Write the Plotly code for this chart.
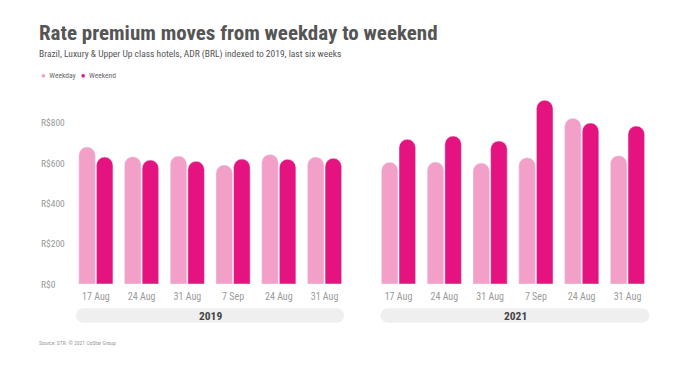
import plotly.graph_objects as go

weeks = ["17 Aug", "24 Aug", "31 Aug", "7 Sep", "24 Aug", "31 Aug"]
weekday_2019 = [680, 632, 635, 590, 643, 630]
weekend_2019 = [630, 615, 609, 620, 619, 624]
weekday_2021 = [604, 605, 600, 627, 822, 637]
weekend_2021 = [718, 734, 710, 912, 799, 784]
years = ["2019", "2021"]
y_ticks = [0, 200, 400, 600, 800]
y_tick_text = ["R$0", "R$200", "R$400", "R$600", "R$800"]

C_WD = "#F3A0C8"
C_WE = "#E5137F"
FONT = "Roboto Condensed, Open Sans Condensed, sans-serif"
W, H = 700, 366
mt, mb = 90, 82
PH = H - mt - mb


def py(ypx):
    """convert a pixel row (from top of figure) to paper coordinate"""
    return (H - mb - ypx) / PH


pos = list(range(len(weeks)))

fig = go.Figure()
fig.add_bar(x=pos, y=weekday_2019, marker_color=C_WD, xaxis="x", yaxis="y", name="Weekday")
fig.add_bar(x=pos, y=weekend_2019, marker_color=C_WE, xaxis="x", yaxis="y", name="Weekend")
fig.add_bar(x=pos, y=weekday_2021, marker_color=C_WD, xaxis="x2", yaxis="y", name="Weekday")
fig.add_bar(x=pos, y=weekend_2021, marker_color=C_WE, xaxis="x2", yaxis="y", name="Weekend")

dom1 = [73 / W, 347.4 / W]
dom2 = [375.6 / W, 650.4 / W]
axis_common = dict(
    tickmode="array", tickvals=pos, ticktext=weeks, showgrid=False, zeroline=False,
    showline=False, ticks="", tickfont=dict(family=FONT, size=10, color="#9a9a9a"),
    range=[-0.5, len(weeks) - 0.5], fixedrange=True, ticklabelstandoff=5,
)

fig.update_layout(
    width=W, height=H,
    margin=dict(l=0, r=0, t=mt, b=mb),
    paper_bgcolor="white", plot_bgcolor="white",
    barmode="group", bargap=0.23, bargroupgap=0.06, barcornerradius="50%",
    xaxis=dict(domain=dom1, anchor="y", **axis_common),
    xaxis2=dict(domain=dom2, anchor="y", **axis_common),
    yaxis=dict(range=[0, PH / 0.2015], showgrid=False, zeroline=False,
               showticklabels=False, showline=False, fixedrange=True),
    showlegend=False,
    font=dict(family=FONT),
)

ann = []
ann.append(dict(text="<b>Rate premium moves from weekday to weekend</b>", x=37 / W, y=py(33),
                xref="paper", yref="paper", xanchor="left", yanchor="middle", showarrow=False,
                font=dict(family=FONT, size=21, color="#555555")))
ann.append(dict(text="Brazil, Luxury &amp; Upper Up class hotels, ADR (BRL) indexed to 2019, last six weeks",
                x=37 / W, y=py(54), xref="paper", yref="paper", xanchor="left", yanchor="middle",
                showarrow=False, font=dict(family=FONT, size=9.5, color="#555555")))
ann.append(dict(text=f"<span style='color:{C_WD};font-size:8px'>●</span>  Weekday   <span style='color:{C_WE};font-size:8px'>●</span>  Weekend",
                x=39 / W, y=py(75), xref="paper", yref="paper", xanchor="left", yanchor="middle",
                showarrow=False, font=dict(family=FONT, size=7.5, color="#666666")))
for v, t in zip(y_ticks, y_tick_text):
    ann.append(dict(text=t, x=38.5 / W, y=v, xref="paper", yref="y", xanchor="left", yanchor="middle",
                    showarrow=False, font=dict(family=FONT, size=9.5, color="#9a9a9a")))
ann.append(dict(text="Source: STR. © 2021 CoStar Group", x=37 / W, y=py(343), xref="paper", yref="paper",
                xanchor="left", yanchor="middle", showarrow=False,
                font=dict(family=FONT, size=5.6, color="#9a9a9a")))

shapes = []
pill_y = py(315.5)
r = 7.2
k = 0.5523
for (x0, x1), yr in zip([(76, 344), (380.7, 649.3)], years):
    w = x1 - x0
    path = (f"M {r},{-r} L {w - r},{-r} "
            f"C {w - r + k * r},{-r} {w},{-k * r} {w},0 "
            f"C {w},{k * r} {w - r + k * r},{r} {w - r},{r} "
            f"L {r},{r} "
            f"C {r - k * r},{r} 0,{k * r} 0,0 "
            f"C 0,{-k * r} {r - k * r},{-r} {r},{-r} Z")
    shapes.append(dict(type="path", xref="paper", yref="paper", xsizemode="pixel", ysizemode="pixel",
                       xanchor=x0 / W, yanchor=pill_y, path=path, fillcolor="#EFEFEF",
                       line=dict(width=0), layer="below"))
    ann.append(dict(text=f"<b>{yr}</b>", x=(x0 + x1) / 2 / W, y=pill_y, xref="paper", yref="paper",
                    xanchor="center", yanchor="middle", showarrow=False,
                    font=dict(family=FONT, size=11.5, color="#444444")))

fig.update_layout(annotations=ann, shapes=shapes)
fig.write_html("out.html", config={"displayModeBar": False},
               post_script="document.body.style.margin='0';")
